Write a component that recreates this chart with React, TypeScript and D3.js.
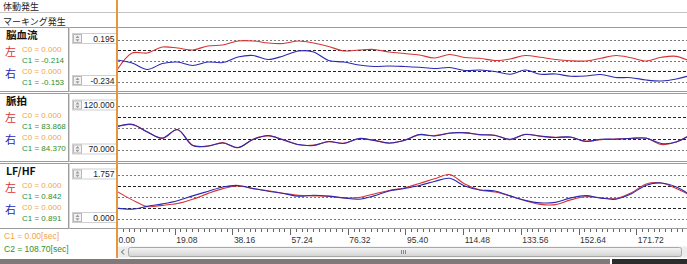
import React, { useEffect, useRef } from 'react';
import * as d3 from 'd3';

// sample times [sec]
const timeSec = [
  0, 5, 10, 15, 20, 25, 30, 35, 40, 45, 50, 55, 60, 65, 70, 75, 80, 85, 90, 95,
  100, 105, 110, 115, 120, 125, 130, 135, 140, 145, 150, 155, 160, 165, 170, 175, 180, 185, 190,
];

// 脳血流
const flowLeft = [
  -0.117, 0.057, 0.057, 0.118, 0.108, 0.088, 0.129, 0.139, 0.18, 0.18, 0.159, 0.154, 0.18, 0.159,
  0.124, 0.078, 0.088, 0.093, 0.067, 0.052, 0.037, 0.006, 0.042, 0.011, 0.003, -0.02, -0.004, 0.032,
  0.013, -0.009, -0.022, -0.025, 0.003, 0.032, 0.009, -0.025, 0.013, 0.023, -0.035,
];
const flowRight = [
  -0.014, -0.045, -0.111, -0.05, -0.035, -0.071, -0.035, -0.04, 0.016, 0.032, -0.009, 0.027, 0.078,
  0.067, -0.02, -0.035, -0.065, -0.081, -0.076, -0.081, -0.089, -0.101, -0.091, -0.122, -0.117,
  -0.132, -0.16, -0.117, -0.16, -0.157, -0.18, -0.178, -0.163, -0.193, -0.195, -0.219, -0.229,
  -0.208, -0.168,
];

// 脈拍
const pulseLeft = [
  97.0, 98.8, 90.8, 83.2, 93.0, 75.5, 74.2, 78.4, 72.5, 82.3, 86.0, 81.8, 76.0, 75.5, 79.3, 77.8,
  82.7, 81.2, 77.6, 81.0, 87.2, 86.3, 89.0, 89.8, 87.2, 86.8, 81.8, 87.9, 85.5, 84.5, 84.4, 80.1,
  81.8, 82.6, 83.0, 83.6, 76.2, 79.4, 88.0,
];
const pulseRight = [
  96.5, 99.2, 90.5, 83.6, 93.3, 75.1, 74.5, 78.0, 72.8, 81.9, 86.5, 81.4, 76.2, 75.1, 79.7, 77.4,
  83.1, 80.8, 78.0, 80.8, 87.6, 85.9, 89.3, 89.5, 87.6, 86.5, 82.2, 87.6, 85.9, 84.2, 84.8, 79.7,
  82.2, 82.3, 83.3, 83.3, 77.4, 79.1, 88.2,
];

// LF/HF
const lfhfLeft = [
  1.094, 0.752, 0.482, 0.531, 0.603, 0.776, 1.005, 1.206, 1.315, 1.206, 1.122, 1.021, 0.933, 0.913,
  0.892, 0.832, 0.844, 0.993, 1.134, 1.234, 1.415, 1.604, 1.777, 1.395, 1.154, 1.073, 0.913, 0.72,
  0.571, 0.559, 0.752, 0.88, 0.84, 0.808, 1.033, 1.395, 1.435, 1.214, 0.913,
];
const lfhfRight = [
  0.418, 0.378, 0.49, 0.591, 0.72, 0.913, 1.094, 1.274, 1.335, 1.214, 1.102, 1.013, 0.897, 0.941,
  0.905, 0.832, 0.78, 0.913, 1.114, 1.214, 1.335, 1.496, 1.624, 1.315, 1.154, 1.114, 0.913, 0.732,
  0.631, 0.651, 0.832, 0.925, 0.824, 0.78, 0.993, 1.343, 1.435, 1.274, 0.913,
];

const panelTitles = ['脳血流', '脈拍', 'LF/HF'];
const axisMax = [0.195, 120, 1.757];
const axisMin = [-0.234, 70, 0];
const axisMaxLabels = ['0.195', '120.000', '1.757'];
const axisMinLabels = ['-0.234', '70.000', '0.000'];
const c0Left = ['0.000', '0.000', '0.000'];
const c1Left = ['-0.214', '83.868', '0.842'];
const c0Right = ['0.000', '0.000', '0.000'];
const c1Right = ['-0.153', '84.370', '0.891'];

const timeTicks = [0, 19.08, 38.16, 57.24, 76.32, 95.4, 114.48, 133.56, 152.64, 171.72];
const timeTickLabels = ['0.00', '19.08', '38.16', '57.24', '76.32', '95.40', '114.48', '133.56', '152.64', '171.72'];
const eventRows = ['体動発生', 'マーキング発生'];
const cursorLabels = ['C1 =  0.00[sec]', 'C2 =  108.70[sec]'];

const App = () => {
  const ref = useRef<SVGSVGElement>(null);

  useEffect(() => {
    const W = 687,
      H = 264;
    const svg = d3.select(ref.current);
    svg.selectAll('*').remove();

    const jp = '"Noto Sans CJK JP", sans-serif';
    const num = '"Liberation Sans", Arial, sans-serif';
    const orange = '#f2a449';
    const green = '#2f8f2f';
    const red = '#d83434';
    const blue = '#2a2ab4';

    svg.append('rect').attr('width', W).attr('height', H).attr('fill', '#fff');

    const x = d3.scaleLinear().domain([0, 188.5]).range([117, 687]);

    // event rows
    svg.append('text').attr('x', 3).attr('y', 9.5).attr('font-family', jp).attr('font-size', 9).attr('fill', '#222').text(eventRows[0]);
    svg.append('line').attr('x1', 0).attr('x2', W).attr('y1', 12.5).attr('y2', 12.5).attr('stroke', '#c4c4c4');
    svg.append('text').attr('x', 3).attr('y', 24.5).attr('font-family', jp).attr('font-size', 9).attr('fill', '#222').text(eventRows[1]);

    const geo = [
      { top: 27.5, bottom: 91.5, gTop: 39.5, gBot: 81.5 },
      { top: 93.5, bottom: 161.5, gTop: 106, gBot: 150 },
      { top: 163.5, bottom: 228.5, gTop: 175, gBot: 218.5 },
    ];
    const series = [
      [flowLeft, flowRight],
      [pulseLeft, pulseRight],
      [lfhfLeft, lfhfRight],
    ];

    geo.forEach((g, i) => {
      const y = d3.scaleLinear().domain([axisMin[i], axisMax[i]]).range([g.gBot, g.gTop]);

      // frame
      svg.append('line').attr('x1', 0).attr('x2', W).attr('y1', g.top).attr('y2', g.top).attr('stroke', '#9c9c9c');
      svg.append('line').attr('x1', 0).attr('x2', W).attr('y1', g.bottom).attr('y2', g.bottom).attr('stroke', '#9c9c9c');
      svg.append('line').attr('x1', 68.5).attr('x2', 68.5).attr('y1', g.top).attr('y2', g.bottom).attr('stroke', '#9c9c9c');
      svg.append('line').attr('x1', 69.5).attr('x2', 69.5).attr('y1', g.top).attr('y2', g.bottom).attr('stroke', '#d6d6d6');

      // left labels
      const t0 = g.top;
      svg.append('text').attr('x', 6).attr('y', t0 + 11.5).attr('font-family', jp).attr('font-size', 10.5).attr('font-weight', 'bold').attr('fill', '#111').text(panelTitles[i]);
      svg.append('text').attr('x', 5).attr('y', t0 + 28).attr('font-family', jp).attr('font-size', 11).attr('fill', red).text('左');
      svg.append('text').attr('x', 5).attr('y', t0 + 50).attr('font-family', jp).attr('font-size', 11).attr('fill', blue).text('右');
      const small = (yy: number, txt: string, col: string) =>
        svg.append('text').attr('x', 22).attr('y', yy).attr('font-family', num).attr('font-size', 8).attr('fill', col).text(txt);
      small(t0 + 24.5, 'C0 = ' + c0Left[i], orange);
      small(t0 + 35, 'C1 = ' + c1Left[i], green);
      small(t0 + 46, 'C0 = ' + c0Right[i], orange);
      small(t0 + 57, 'C1 = ' + c1Right[i], green);

      // spin boxes
      [
        { cy: g.gTop - 1, label: axisMaxLabels[i] },
        { cy: g.gBot - 1, label: axisMinLabels[i] },
      ].forEach((b) => {
        svg.append('rect').attr('x', 72.5).attr('y', b.cy - 5).attr('width', 44).attr('height', 10).attr('fill', '#fff').attr('stroke', '#cfcfcf');
        svg.append('rect').attr('x', 73.5).attr('y', b.cy - 4).attr('width', 8).attr('height', 8).attr('fill', '#f2f2f2').attr('stroke', '#b8b8b8');
        svg.append('path').attr('d', `M75.5,${b.cy - 0.5}L77.5,${b.cy - 3}L79.5,${b.cy - 0.5}Z M75.5,${b.cy + 0.8}L77.5,${b.cy + 3.2}L79.5,${b.cy + 0.8}Z`).attr('fill', '#9a9a9a');
        svg.append('text').attr('x', 114.5).attr('y', b.cy + 3).attr('text-anchor', 'end').attr('font-family', num).attr('font-size', 8.5).attr('fill', '#222').text(b.label);
      });

      // grid lines
      const gridVals = d3.range(5).map((k) => axisMin[i] + ((axisMax[i] - axisMin[i]) * k) / 4);
      svg
        .append('g')
        .selectAll('line')
        .data(gridVals)
        .enter()
        .append('line')
        .attr('x1', 118)
        .attr('x2', W)
        .attr('y1', (d) => Math.round(y(d)) + 0.5)
        .attr('y2', (d) => Math.round(y(d)) + 0.5)
        .attr('stroke', (d, k) => (k === 1 || k === 3 ? '#222' : '#777'))
        .attr('stroke-dasharray', (d, k) => (k === 1 || k === 3 ? '3,2' : '2,2'));

      // clip
      const clipId = 'clip' + i;
      svg
        .append('clipPath')
        .attr('id', clipId)
        .append('rect')
        .attr('x', 117)
        .attr('y', g.top + 1)
        .attr('width', W - 117)
        .attr('height', g.bottom - g.top - 1);

      const line = d3
        .line<number>()
        .x((d, k) => x(timeSec[k]))
        .y((d) => y(d))
        .curve(d3.curveCatmullRom.alpha(0.5));

      const gl = svg.append('g').attr('clip-path', `url(#${clipId})`);
      gl.append('path').attr('d', line(series[i][0]) ?? '').attr('fill', 'none').attr('stroke', red).attr('stroke-width', 1.1);
      gl.append('path').attr('d', line(series[i][1]) ?? '').attr('fill', 'none').attr('stroke', blue).attr('stroke-width', 1.1);
    });

    // time axis
    const minor = d3.range(0, 101).map((k) => k * 1.908).filter((t) => x(t) <= W);
    svg
      .append('g')
      .selectAll('line')
      .data(minor)
      .enter()
      .append('line')
      .attr('x1', (d) => Math.round(x(d)) + 0.5)
      .attr('x2', (d) => Math.round(x(d)) + 0.5)
      .attr('y1', 229)
      .attr('y2', (d, k) => (k % 10 === 0 ? 235 : 232))
      .attr('stroke', '#666');
    svg
      .append('g')
      .selectAll('text')
      .data(timeTicks)
      .enter()
      .append('text')
      .attr('x', (d) => x(d) + 1.5)
      .attr('y', 243)
      .attr('font-family', num)
      .attr('font-size', 8.5)
      .attr('fill', '#333')
      .text((d, k) => timeTickLabels[k]);

    // cursor labels
    svg.append('text').attr('x', 4).attr('y', 239).attr('font-family', num).attr('font-size', 8.5).attr('fill', orange).text(cursorLabels[0]);
    svg.append('text').attr('x', 4).attr('y', 252).attr('font-family', num).attr('font-size', 8.5).attr('fill', green).text(cursorLabels[1]);

    // scrollbar
    const grad = svg.append('defs').append('linearGradient').attr('id', 'thumb').attr('x1', 0).attr('x2', 0).attr('y1', 0).attr('y2', 1);
    grad.append('stop').attr('offset', '0%').attr('stop-color', '#f6f6f6');
    grad.append('stop').attr('offset', '100%').attr('stop-color', '#d2d2d2');
    svg.append('rect').attr('x', 118).attr('y', 246.5).attr('width', W - 118).attr('height', 11).attr('fill', '#ececec');
    svg.append('path').attr('d', 'M124,249.5L121.5,252L124,254.5').attr('fill', 'none').attr('stroke', '#555');
    svg.append('rect').attr('x', 128.5).attr('y', 247.5).attr('width', 553).attr('height', 9).attr('rx', 2).attr('fill', 'url(#thumb)').attr('stroke', '#a8a8a8');
    [401.5, 403.5, 405.5].forEach((gx) =>
      svg.append('line').attr('x1', gx).attr('x2', gx).attr('y1', 250).attr('y2', 254).attr('stroke', '#888'),
    );

    // bottom strip
    svg.append('rect').attr('x', 0).attr('y', 259).attr('width', 610).attr('height', 5).attr('fill', '#817979');
    svg.append('rect').attr('x', 612).attr('y', 259).attr('width', W - 612).attr('height', 5).attr('fill', '#2c2c2c');

    // C1 cursor
    svg.append('line').attr('x1', 117).attr('x2', 117).attr('y1', 0).attr('y2', 258).attr('stroke', '#e8963c').attr('stroke-width', 2);
  }, []);

  return (
    <svg
      ref={ref}
      width={687}
      height={264}
      style={{ position: 'fixed', left: 0, top: 0, display: 'block' }}
    />
  );
};

export default App;
